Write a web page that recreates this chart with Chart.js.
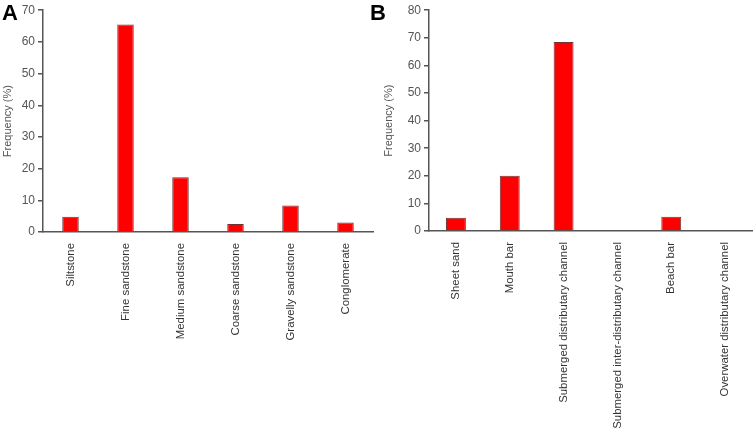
<!DOCTYPE html>
<html>
<head>
<meta charset="utf-8">
<script src="https://cdn.jsdelivr.net/npm/chart.js@4/dist/chart.umd.min.js"></script>
<style>
  body { margin: 0; background: #fff; }
  #wrap { position: relative; width: 754px; height: 429px; overflow: hidden; }
  canvas { position: absolute; top: 0; }
  .panel { position: absolute; font: bold 22px "Liberation Sans", Arial, sans-serif; color: #000; }
</style>
</head>
<body>
<div id="wrap">
  <canvas id="chartA" width="377" height="429" style="left:0"></canvas>
  <canvas id="chartB" width="377" height="429" style="left:377px"></canvas>
  <div class="panel" style="left:2px; top:0px">A</div>
  <div class="panel" style="left:370px; top:0px">B</div>
</div>
<script>
const lithologyLabels = ['Siltstone', 'Fine sandstone', 'Medium sandstone', 'Coarse sandstone', 'Gravelly sandstone', 'Conglomerate'];
const lithologyFreq = [4.8, 65.5, 17.3, 2.5, 8.4, 3.0];

const faciesLabels = ['Sheet sand', 'Mouth bar', 'Submerged distributary channel', 'Submerged inter-distributary channel', 'Beach bar', 'Overwater distributary channel'];
const faciesFreq = [4.8, 20, 68.5, 0, 5.2, 0];

const axisGray = '#555';
const fontFamily = '"Liberation Sans", Arial, sans-serif';

function makeChart(id, labels, values, yMax, cfg) {
  const ctx = document.getElementById(id).getContext('2d');
  return new Chart(ctx, {
    type: 'bar',
    data: {
      labels: labels,
      datasets: [{
        data: values,
        backgroundColor: '#ff0000',
        borderColor: '#6e3434',
        borderWidth: 1,
        barPercentage: cfg.barPct,
        categoryPercentage: 1
      }]
    },
    options: {
      responsive: false,
      animation: false,
      devicePixelRatio: 1,
      layout: { padding: { left: cfg.padLeft, right: cfg.padRight, top: cfg.padTop, bottom: 0 } },
      plugins: { legend: { display: false }, tooltip: { enabled: false } },
      scales: {
        x: {
          grid: { display: false, drawTicks: false },
          border: { display: true, color: axisGray, width: 1.5 },
          ticks: {
            minRotation: 90, maxRotation: 90, autoSkip: false, padding: 11,
            color: '#333', font: { family: fontFamily, size: 11.4 }
          },
          afterFit: (scale) => { scale.height = cfg.xHeight; }
        },
        y: {
          min: 0, max: yMax,
          grid: { drawOnChartArea: false, drawTicks: true, tickLength: 5, color: axisGray, lineWidth: 1.5 },
          border: { display: true, color: axisGray, width: 1.5 },
          ticks: { stepSize: 10, padding: 3, color: axisGray, font: { family: fontFamily, size: 12 } },
          title: {
            display: true, text: 'Frequency (%)', color: axisGray,
            padding: { top: 0, bottom: 0 },
            font: { family: fontFamily, size: 11 }
          },
          afterFit: (scale) => { scale.width = cfg.yWidth; }
        }
      }
    }
  });
}

makeChart('chartA', lithologyLabels, lithologyFreq, 70,
  { padLeft: 1, padRight: 4, padTop: 7, yWidth: 42, xHeight: 197, barPct: 0.3 });
makeChart('chartB', faciesLabels, faciesFreq, 80,
  { padLeft: 5, padRight: 2, padTop: 6, yWidth: 47, xHeight: 198, barPct: 0.37 });
</script>
</body>
</html>
